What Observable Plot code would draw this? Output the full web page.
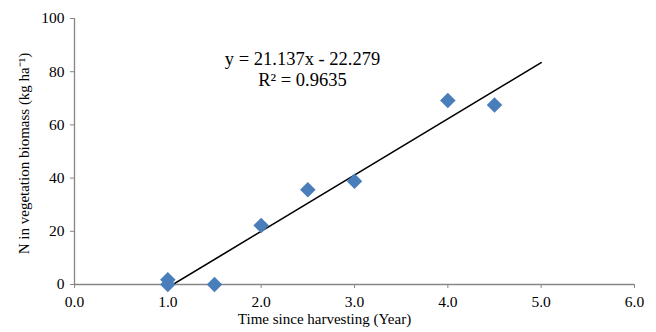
<!DOCTYPE html>
<html>
<head>
<meta charset="utf-8">
<script src="https://cdn.jsdelivr.net/npm/d3@7"></script>
<script src="https://cdn.jsdelivr.net/npm/@observablehq/plot@0.6"></script>
<style>
  html, body { margin: 0; padding: 0; background: #fff; }
</style>
</head>
<body>
<div id="chart"></div>
<script>
const years = [1.0, 1.0, 1.5, 2.0, 2.5, 3.0, 4.0, 4.5];
const nBiomass = [1.8, 0.0, 0.0, 22.2, 35.6, 38.8, 69.2, 67.5];
const slope = 21.137;
const intercept = -22.279;
const rSquared = 0.9635;
const trendRange = [1.0, 5.0];
const xTicks = [0, 1, 2, 3, 4, 5, 6];
const yTicks = [0, 20, 40, 60, 80, 100];
const xTitle = "Time since harvesting (Year)";
const yTitle = "N in vegetation biomass (kg ha\u207B\u00B9)";
const equation = `y = ${slope}x - ${Math.abs(intercept)}\nR\u00B2 = ${rSquared}`;

const points = years.map((x, i) => ({x, y: nBiomass[i]}));
const trend = trendRange.map(x => ({x, y: slope * x + intercept}));

const axisGray = "#868686";
const font = "'Liberation Serif', 'Times New Roman', serif";

const chart = Plot.plot({
  width: 656,
  height: 332,
  marginLeft: 74,
  marginRight: 22,
  marginTop: 18,
  marginBottom: 48,
  style: {fontFamily: font, fontSize: "15px", color: "#000", background: "#fff"},
  x: {domain: [0, 6]},
  y: {domain: [0, 100]},
  marks: [
    Plot.ruleY([0], {stroke: axisGray, strokeWidth: 1.3}),
    Plot.ruleX([0], {stroke: axisGray, strokeWidth: 1.3}),
    Plot.axisX({ticks: xTicks, tickFormat: d3.format(".1f"), tickSize: 4, tickPadding: 7, stroke: axisGray, fill: "#000", fontSize: 15.5, label: null}),
    Plot.axisY({ticks: yTicks, tickSize: 4, tickPadding: 6, stroke: axisGray, fill: "#000", fontSize: 15.5, label: null}),
    Plot.line(trend, {x: "x", y: "y", stroke: "#000", strokeWidth: 1.6, clip: true}),
    Plot.dot(points, {x: "x", y: "y", symbol: "diamond2", r: 7, fill: "#4a7ebb", stroke: "none"}),
    Plot.text([equation], {frameAnchor: "top", dx: -52, dy: 50, lineAnchor: "middle", lineHeight: 1.14, fontSize: 18.5, fill: "#000"}),
    Plot.text([xTitle], {frameAnchor: "bottom", dx: -30, dy: 39, textAnchor: "middle", fontSize: 15, fill: "#000"}),
    Plot.text([yTitle], {frameAnchor: "left", dx: -50.5, dy: 2, rotate: -90, textAnchor: "middle", lineAnchor: "middle", fontSize: 15, fill: "#000"})
  ]
});
document.getElementById("chart").appendChild(chart);
</script>
</body>
</html>
